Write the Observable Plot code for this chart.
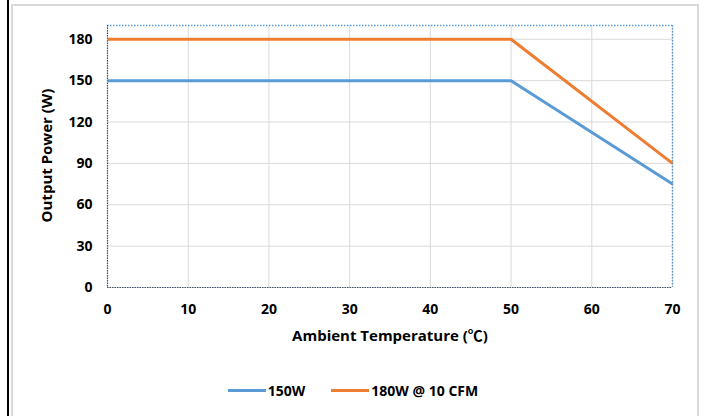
<!DOCTYPE html>
<html>
<head>
<meta charset="utf-8">
<script src="https://cdn.jsdelivr.net/npm/d3@7"></script>
<script src="https://cdn.jsdelivr.net/npm/@observablehq/plot@0.6"></script>
<style>
  html, body { margin: 0; padding: 0; background: #fff; }
  body { width: 706px; height: 416px; overflow: hidden; position: relative; font-family: "Open Sans", "Liberation Sans", sans-serif; }
  #blackline { position: absolute; left: 7px; top: 0; width: 2px; height: 416px; background: #000; }
  #frame { position: absolute; left: 11px; top: 4px; width: 688px; height: 420px; border: 2px solid #d9d9d9; box-sizing: border-box; }
  #chart { position: absolute; left: 0; top: 0; }
  #legend { position: absolute; left: 0; top: 381px; width: 706px; display: flex; justify-content: center; align-items: center; font-weight: 700; font-size: 14px; color: #000; }
  .item { display: flex; align-items: center; margin: 0 13px; }
  .sw { width: 38px; height: 3px; margin-right: 2px; }
</style>
</head>
<body>
<div id="blackline"></div>
<div id="frame"></div>
<div id="chart"></div>
<div id="legend"></div>
<script>
const temps = [0, 50, 70];
const power150 = [150, 150, 75];
const power180 = [180, 180, 90];
const seriesNames = ["150W", "180W @ 10 CFM"];
const seriesColors = ["#5B9BD5", "#ED7D31"];
const xTicks = [0, 10, 20, 30, 40, 50, 60, 70];
const yTicks = [0, 30, 60, 90, 120, 150, 180];
const xTitle = "Ambient Temperature (℃)";
const yTitle = "Output Power (W)";

const data = [];
[power150, power180].forEach((vals, i) => {
  temps.forEach((t, j) => data.push({series: seriesNames[i], t, p: vals[j]}));
});

const FONT = "'Open Sans', 'Noto Sans CJK SC', 'Liberation Sans', sans-serif";
const W = 706, H = 372;
const plot = Plot.plot({
  width: W,
  height: H,
  marginLeft: 107,
  marginRight: 34,
  marginTop: 25,
  marginBottom: H - 287,
  style: { fontFamily: FONT, fontSize: "14px", fontWeight: 700, color: "#000", background: "transparent" },
  x: { domain: [0, 70], ticks: xTicks, tickSize: 0, tickPadding: 17, label: null },
  y: { domain: [0, 190], ticks: yTicks, tickSize: 0, tickPadding: 15, label: null },
  color: { domain: seriesNames, range: seriesColors },
  marks: [
    Plot.gridX(xTicks, { stroke: "#d9d9d9", strokeOpacity: 1, strokeWidth: 1 }),
    Plot.gridY(yTicks, { stroke: "#d9d9d9", strokeOpacity: 1, strokeWidth: 1 }),
    Plot.ruleY([190], { stroke: "#5B9BD5", strokeWidth: 1.5, strokeDasharray: "1.5,1.5" }),
    Plot.ruleX([70], { stroke: "#5B9BD5", strokeWidth: 1.5, strokeDasharray: "1.5,1.5" }),
    Plot.ruleX([0], { stroke: "#44546A", strokeWidth: 1.2, strokeDasharray: "1.5,1" }),
    Plot.ruleY([0], { stroke: "#44546A", strokeWidth: 1.2, strokeDasharray: "1.5,1" }),
    Plot.axisX({ ticks: xTicks, tickSize: 0, tickPadding: 17, fontSize: 14, fontWeight: 700, label: null }),
    Plot.axisY({ ticks: yTicks, tickSize: 0, tickPadding: 15, fontSize: 14, fontWeight: 700, label: null }),
    Plot.line(data, { x: "t", y: "p", z: "series", stroke: "series", strokeWidth: 3, strokeLinecap: "butt", strokeLinejoin: "miter" }),
    Plot.text([xTitle], { frameAnchor: "bottom", dy: 53, fontSize: 15, fontWeight: 700, fontFamily: FONT }),
    Plot.text([yTitle], { frameAnchor: "left", dx: -60, dy: -1, rotate: -90, textAnchor: "middle", fontSize: 15, fontWeight: 700 })
  ]
});
document.getElementById("chart").appendChild(plot);

const legend = document.getElementById("legend");
seriesNames.forEach((name, i) => {
  const item = document.createElement("div");
  item.className = "item";
  const sw = document.createElement("div");
  sw.className = "sw";
  sw.style.background = seriesColors[i];
  const label = document.createElement("span");
  label.textContent = name;
  item.appendChild(sw);
  item.appendChild(label);
  legend.appendChild(item);
});
</script>
</body>
</html>
